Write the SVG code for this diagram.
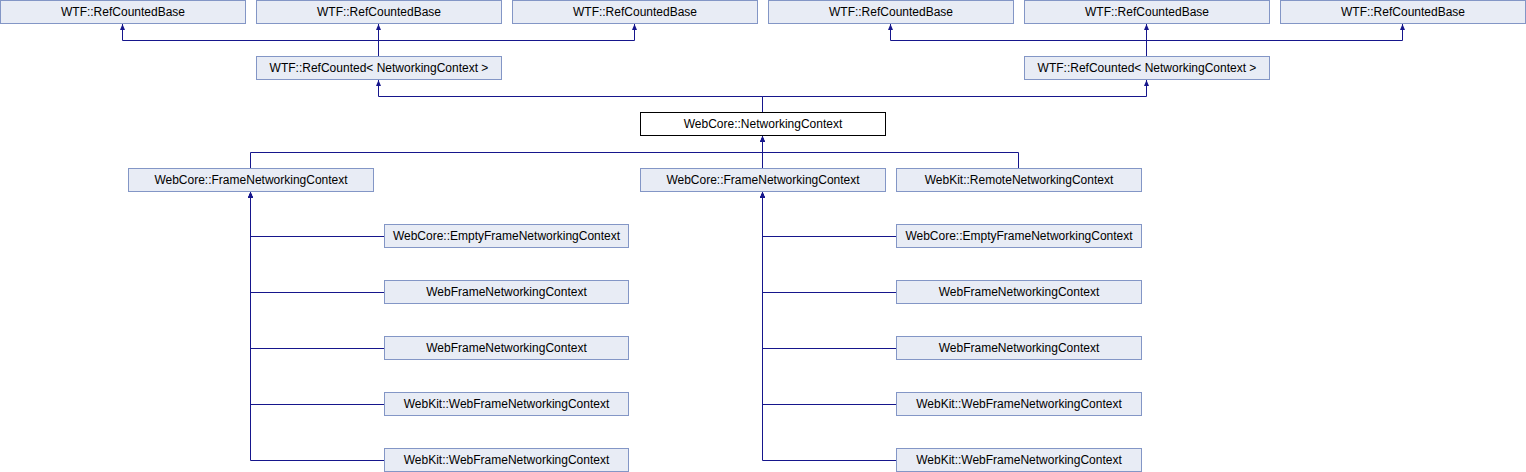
<svg xmlns="http://www.w3.org/2000/svg" width="1526" height="472" viewBox="0 0 1526 472">
<style>
.n rect{fill:#e8ecf5;stroke:#8396c6;stroke-width:1}
.n.main rect{fill:#ffffff;stroke:#000000}
.n text{font-family:"Liberation Sans",Arial,sans-serif;font-size:12px;fill:#000;text-anchor:middle}
#edges path{fill:none;stroke:#16168c;stroke-width:1;marker-end:url(#ah)}
</style>
<defs>
<marker id="ah" markerUnits="userSpaceOnUse" markerWidth="6" markerHeight="6" refX="6" refY="3" orient="auto">
<path d="M0,0.5 L6,3 L0,5.5 z" fill="#16168c"/>
</marker>
</defs>
<rect width="1526" height="472" fill="#ffffff"/>
<g id="edges">
<path d="M378.5,56 V40.5 H122.5 V24"/>
<path d="M378.5,56 V24"/>
<path d="M378.5,56 V40.5 H634.5 V24"/>
<path d="M1146.5,56 V40.5 H890.5 V24"/>
<path d="M1146.5,56 V24"/>
<path d="M1146.5,56 V40.5 H1402.5 V24"/>
<path d="M762.5,112 V96.5 H378.5 V80"/>
<path d="M762.5,112 V96.5 H1146.5 V80"/>
<path d="M250.5,168 V152.5 H762.5 V136"/>
<path d="M762.5,168 V136"/>
<path d="M1018.5,168 V152.5 H762.5 V136"/>
<path d="M384,236.5 H250.5 V192"/>
<path d="M384,292.5 H250.5 V192"/>
<path d="M384,348.5 H250.5 V192"/>
<path d="M384,404.5 H250.5 V192"/>
<path d="M384,460.5 H250.5 V192"/>
<path d="M896,236.5 H762.5 V192"/>
<path d="M896,292.5 H762.5 V192"/>
<path d="M896,348.5 H762.5 V192"/>
<path d="M896,404.5 H762.5 V192"/>
<path d="M896,460.5 H762.5 V192"/>
</g>
<g id="base1" class="n"><rect x="0.5" y="0.5" width="245" height="23"/><text x="123" y="16">WTF::RefCountedBase</text></g>
<g id="base2" class="n"><rect x="256.5" y="0.5" width="245" height="23"/><text x="379" y="16">WTF::RefCountedBase</text></g>
<g id="base3" class="n"><rect x="512.5" y="0.5" width="245" height="23"/><text x="635" y="16">WTF::RefCountedBase</text></g>
<g id="base4" class="n"><rect x="768.5" y="0.5" width="245" height="23"/><text x="891" y="16">WTF::RefCountedBase</text></g>
<g id="base5" class="n"><rect x="1024.5" y="0.5" width="245" height="23"/><text x="1147" y="16">WTF::RefCountedBase</text></g>
<g id="base6" class="n"><rect x="1280.5" y="0.5" width="245" height="23"/><text x="1403" y="16">WTF::RefCountedBase</text></g>
<g id="refcounted1" class="n"><rect x="256.5" y="56.5" width="245" height="23"/><text x="379" y="72">WTF::RefCounted&lt; NetworkingContext &gt;</text></g>
<g id="refcounted2" class="n"><rect x="1024.5" y="56.5" width="245" height="23"/><text x="1147" y="72">WTF::RefCounted&lt; NetworkingContext &gt;</text></g>
<g id="networkingcontext" class="n main"><rect x="640.5" y="112.5" width="245" height="23"/><text x="763" y="128">WebCore::NetworkingContext</text></g>
<g id="frame1" class="n"><rect x="128.5" y="168.5" width="245" height="23"/><text x="251" y="184">WebCore::FrameNetworkingContext</text></g>
<g id="frame2" class="n"><rect x="640.5" y="168.5" width="245" height="23"/><text x="763" y="184">WebCore::FrameNetworkingContext</text></g>
<g id="remote" class="n"><rect x="896.5" y="168.5" width="245" height="23"/><text x="1019" y="184">WebKit::RemoteNetworkingContext</text></g>
<g id="l1" class="n"><rect x="384.5" y="224.5" width="244" height="23"/><text x="506.5" y="240">WebCore::EmptyFrameNetworkingContext</text></g>
<g id="l2" class="n"><rect x="384.5" y="280.5" width="244" height="23"/><text x="506.5" y="296">WebFrameNetworkingContext</text></g>
<g id="l3" class="n"><rect x="384.5" y="336.5" width="244" height="23"/><text x="506.5" y="352">WebFrameNetworkingContext</text></g>
<g id="l4" class="n"><rect x="384.5" y="392.5" width="244" height="23"/><text x="506.5" y="408">WebKit::WebFrameNetworkingContext</text></g>
<g id="l5" class="n"><rect x="384.5" y="448.5" width="244" height="23"/><text x="506.5" y="464">WebKit::WebFrameNetworkingContext</text></g>
<g id="r1" class="n"><rect x="896.5" y="224.5" width="245" height="23"/><text x="1019" y="240">WebCore::EmptyFrameNetworkingContext</text></g>
<g id="r2" class="n"><rect x="896.5" y="280.5" width="245" height="23"/><text x="1019" y="296">WebFrameNetworkingContext</text></g>
<g id="r3" class="n"><rect x="896.5" y="336.5" width="245" height="23"/><text x="1019" y="352">WebFrameNetworkingContext</text></g>
<g id="r4" class="n"><rect x="896.5" y="392.5" width="245" height="23"/><text x="1019" y="408">WebKit::WebFrameNetworkingContext</text></g>
<g id="r5" class="n"><rect x="896.5" y="448.5" width="245" height="23"/><text x="1019" y="464">WebKit::WebFrameNetworkingContext</text></g>
</svg>
